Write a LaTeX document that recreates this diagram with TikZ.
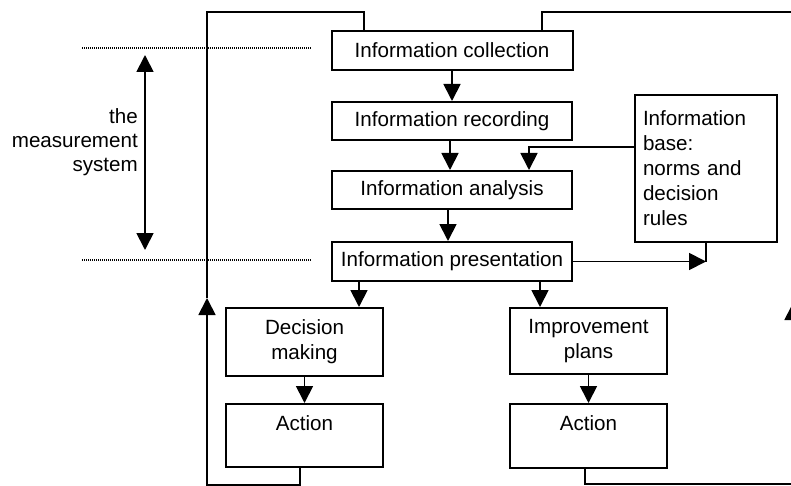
\documentclass[tikz,border=0pt]{standalone}
\usepackage{fontspec}
\setmainfont{Liberation Sans}
\usetikzlibrary{arrows.meta}
\begin{document}
\begin{tikzpicture}[x=1pt,y=-1pt,
  font=\fontsize{20.6}{25}\selectfont,
  box/.style={draw,line width=2pt,rectangle,inner sep=0pt,align=center},
  conn/.style={line width=1.8pt},
  arr/.style={conn,-{Triangle[length=17pt,width=17pt]}},
  guide/.style={line width=1.2pt,dash pattern=on 1pt off 1pt}]
\useasboundingbox (0,0) rectangle (791,486);

% central chain of the measurement system
\node[box,minimum width=241pt,minimum height=39pt] (coll) at (452,50.5) {Information collection};
\node[box,minimum width=240pt,minimum height=38pt] (rec)  at (452,121) {Information recording};
\node[box,minimum width=240pt,minimum height=38pt] (ana)  at (452,190) {Information analysis};
\node[box,minimum width=240pt,minimum height=39pt] (pres) at (452,261.5) {Information presentation};

% information base
\node[box,minimum width=142pt,minimum height=147pt,text width=126pt,align=left] (base) at (706,168.5)
  {Information\\base:\\norms and\\decision\\rules};

% follow-up branches
\node[box,minimum width=157pt,minimum height=68pt] (dec)  at (304.5,342) {Decision\\making};
\node[box,minimum width=157pt,minimum height=63pt] (act1) at (304.5,435.5) {Action\\\mbox{}};
\node[box,minimum width=157pt,minimum height=66pt] (imp)  at (588.5,341) {Improvement\\plans};
\node[box,minimum width=157pt,minimum height=64pt] (act2) at (588.5,436) {Action\\\mbox{}};

% boundaries of the measurement system
\coordinate (g1a) at (82,48);  \coordinate (g1b) at (312,48);
\coordinate (g2a) at (82,260); \coordinate (g2b) at (312,260);
\draw[guide] (g1a) -- (g1b);
\draw[guide] (g2a) -- (g2b);
\coordinate (spanT) at (145,55);
\coordinate (spanB) at (145,250);
\draw[conn,{Triangle[length=17pt,width=17pt]}-{Triangle[length=17pt,width=17pt]}] (spanT) -- (spanB);
\node[anchor=east,align=right,font=\fontsize{20.6}{24}\selectfont,inner sep=0pt] (ms) at (138,142)
  {the\\measurement\\system};

% flow through the chain
\draw[arr] (coll.south) -- (coll.south |- rec.north);
\draw[arr] ([xshift=-2pt]rec.south) -- ([xshift=-2pt]ana.north);
\draw[arr] ([yshift=-53pt]base.north west) -| ([xshift=77pt]ana.north);
\draw[arr] ([xshift=-4pt]ana.south) -- ([xshift=-4pt]pres.north);
\draw[arr] (pres.east) -- (pres.east -| base.south);
\draw[conn] (base.south) -- (pres.east -| base.south);
\draw[arr] ([xshift=-93pt]pres.south) -- ([xshift=-93pt]pres.south |- dec.north);
\draw[arr] ([xshift=88pt]pres.south) -- ([xshift=88pt]pres.south |- imp.north);
\draw[arr] (dec.south) -- (act1.north);
\draw[arr] (imp.south) -- (act2.north);

% feedback loops back to information collection
\coordinate (lb) at (207,485);
\coordinate (lu) at (207,298);
\coordinate (lt) at (207,12);
\draw[arr] ([xshift=-4.5pt]act1.south) |- (lb) -- (lu);
\draw[conn] (lu) -- (lt) -| ([xshift=-88pt]coll.north);

\coordinate (rb) at (793,484);
\coordinate (ru) at (793,303);
\coordinate (rt) at (793,12);
\draw[arr] ([xshift=-3.5pt]act2.south) |- (rb) -- (ru);
\draw[conn] (ru) -- (rt) -| ([xshift=90pt]coll.north);
\end{tikzpicture}
\end{document}
